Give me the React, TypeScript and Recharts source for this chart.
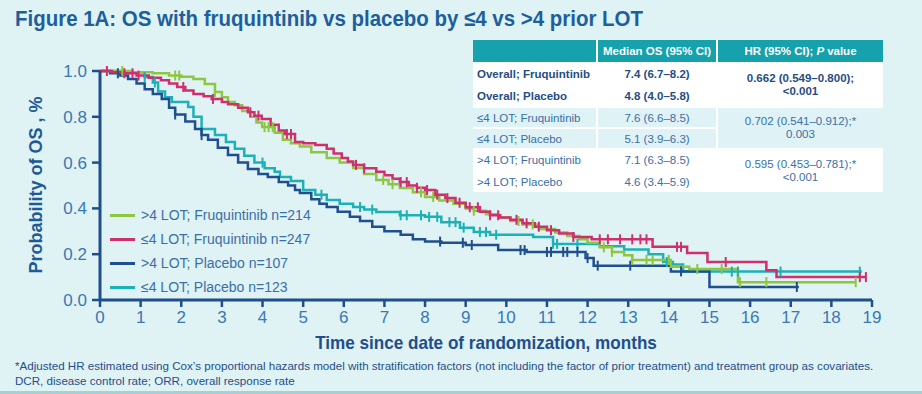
import { ComposedChart, Line, XAxis, YAxis, Legend } from 'recharts';

const NARROW = '"Liberation Sans Narrow", "Arial Narrow", "Liberation Sans", Arial, sans-serif';
const SANS = '"Liberation Sans", Arial, sans-serif';
const BG = '#dff2f4';
const NAVY = '#1f4e8c';
const TICK_BLUE = '#3a78b4';

const monthTicks = [0, 1, 2, 3, 4, 5, 6, 7, 8, 9, 10, 11, 12, 13, 14, 15, 16, 17, 18, 19];
const survTicks = [0, 0.2, 0.4, 0.6, 0.8, 1.0];

// KM steps [month, survival] and censor times
const gt4FruqSteps: [number, number][] = [
  [0, 1], [0.8, 0.995], [1.3, 0.99], [1.7, 0.98], [2.0, 0.975], [2.3, 0.965], [2.58, 0.943], [2.83, 0.908],
  [3.0, 0.885], [3.15, 0.865], [3.32, 0.85], [3.5, 0.825], [3.7, 0.8], [3.85, 0.775], [3.99, 0.755], [4.3, 0.73],
  [4.5, 0.7], [4.7, 0.685], [4.92, 0.67], [5.2, 0.645], [5.58, 0.62], [5.9, 0.6], [6.23, 0.576], [6.5, 0.55],
  [6.8, 0.524], [7.1, 0.505], [7.38, 0.489], [7.7, 0.47], [8.0, 0.45], [8.35, 0.435], [8.7, 0.42], [9.0, 0.4],
  [9.2, 0.39], [9.5, 0.375], [9.8, 0.36], [10.1, 0.345], [10.4, 0.33], [10.8, 0.31], [11.2, 0.295], [11.5, 0.28],
  [11.8, 0.265], [12.0, 0.25], [12.3, 0.23], [12.6, 0.21], [12.9, 0.195], [13.1, 0.175], [14.05, 0.145],
  [14.5, 0.135], [15.7, 0.078], [18.6, 0.078],
];
const gt4FruqCensor = [0.55, 1.85, 1.95, 2.83, 4.05, 4.15, 4.25, 6.97, 7.2, 7.9, 8.2, 9.2, 10.3, 10.65, 12.4, 12.6,
  13.1, 13.45, 13.6, 14.0, 14.7, 15.3, 15.75, 16.4, 18.6];

const le4FruqSteps: [number, number][] = [
  [0, 1], [0.3, 0.995], [0.6, 0.99], [0.9, 0.98], [1.2, 0.97], [1.5, 0.96], [1.7, 0.945], [1.9, 0.93], [2.1, 0.915],
  [2.3, 0.9], [2.55, 0.89], [2.75, 0.878], [3.0, 0.865], [3.15, 0.855], [3.4, 0.84], [3.64, 0.82], [3.8, 0.805],
  [3.98, 0.79], [4.2, 0.765], [4.4, 0.74], [4.55, 0.725], [4.8, 0.69], [5.0, 0.685], [5.3, 0.677], [5.58, 0.66],
  [5.75, 0.64], [5.95, 0.62], [6.1, 0.605], [6.23, 0.59], [6.5, 0.575], [6.8, 0.56], [7.0, 0.545], [7.2, 0.53],
  [7.38, 0.515], [7.6, 0.5], [7.8, 0.49], [8.0, 0.48], [8.25, 0.46], [8.5, 0.445], [8.75, 0.425], [9.0, 0.405],
  [9.35, 0.385], [9.6, 0.37], [9.85, 0.36], [10.1, 0.35], [10.4, 0.335], [10.7, 0.32], [11.0, 0.305], [11.3, 0.29],
  [11.65, 0.275], [12.1, 0.265], [13.6, 0.232], [14.45, 0.205], [14.95, 0.166], [16.4, 0.13], [16.65, 0.1],
  [18.85, 0.1],
];
const le4FruqCensor = [0.17, 0.6, 0.8, 0.95, 2.05, 2.78, 3.7, 3.9, 4.6, 4.7, 6.3, 6.5, 7.4, 7.55, 7.8, 8.05, 8.3,
  8.55, 8.85, 9.1, 9.3, 9.6, 9.8, 10.25, 10.5, 10.8, 11.1, 11.65, 12.3, 12.5, 12.8, 13.1, 13.3, 13.45, 14.2, 14.3,
  15.4, 18.7, 18.85];

const gt4PboSteps: [number, number][] = [
  [0, 1], [0.25, 0.99], [0.5, 0.98], [0.69, 0.965], [0.9, 0.945], [1.1, 0.92], [1.3, 0.9], [1.52, 0.878],
  [1.7, 0.84], [1.85, 0.81], [2.1, 0.78], [2.34, 0.747], [2.5, 0.72], [2.66, 0.7], [2.9, 0.665], [3.15, 0.633],
  [3.4, 0.6], [3.64, 0.572], [3.9, 0.55], [4.13, 0.537], [4.4, 0.515], [4.63, 0.5], [4.8, 0.48], [4.92, 0.467],
  [5.2, 0.44], [5.4, 0.42], [5.58, 0.406], [5.85, 0.385], [6.15, 0.363], [6.4, 0.345], [6.7, 0.32], [7.0, 0.3],
  [7.4, 0.285], [7.7, 0.265], [8.0, 0.255], [8.4, 0.25], [9.0, 0.24], [9.8, 0.218], [10.5, 0.21], [11.95, 0.183],
  [12.15, 0.15], [14.05, 0.125], [15.0, 0.057], [17.2, 0.057],
];
const gt4PboCensor = [0.44, 1.85, 2.5, 8.37, 8.93, 9.15, 10.35, 10.45, 11.0, 11.1, 11.4, 11.5, 11.75, 12.0, 12.25,
  13.05, 14.3, 17.15];

const le4PboSteps: [number, number][] = [
  [0, 1], [0.6, 0.995], [1.1, 0.974], [1.3, 0.95], [1.43, 0.91], [1.6, 0.885], [1.77, 0.865], [2.17, 0.843],
  [2.3, 0.8], [2.5, 0.747], [2.83, 0.72], [3.1, 0.69], [3.32, 0.66], [3.55, 0.63], [3.8, 0.6], [4.05, 0.575],
  [4.3, 0.56], [4.43, 0.537], [4.7, 0.52], [5.0, 0.48], [5.3, 0.46], [5.58, 0.437], [5.9, 0.42], [6.23, 0.406],
  [6.5, 0.395], [6.8, 0.384], [7.38, 0.37], [8.0, 0.363], [8.4, 0.34], [8.86, 0.316], [9.2, 0.297], [9.6, 0.285],
  [10.66, 0.275], [11.15, 0.245], [12.3, 0.235], [12.9, 0.22], [13.5, 0.2], [13.86, 0.166], [14.1, 0.155],
  [14.35, 0.124], [18.75, 0.124],
];
const le4PboCensor = [1.1, 1.35, 4.0, 5.45, 6.4, 6.7, 7.4, 7.55, 7.9, 8.1, 8.3, 8.6, 8.75, 8.95, 9.35, 9.5, 9.75,
  11.15, 11.25, 11.75, 13.95, 15.55, 15.7, 16.75, 18.7];

// step lookup: merge censor ticks into the curve at the current survival level
function buildCurve(steps: [number, number][], censor: number[]) {
  const pts = steps.map(([t, s]) => ({ t, s, c: false }));
  censor.forEach((ct) => {
    let s = steps[0][1];
    for (const [t, v] of steps) if (t <= ct) s = v;
    pts.push({ t: ct, s, c: true });
  });
  return pts.sort((a, b) => a.t - b.t || (a.c ? 1 : -1));
}

const series = [
  { name: '>4 LOT; Fruquintinib n=214', color: '#8dc641', data: buildCurve(gt4FruqSteps, gt4FruqCensor) },
  { name: '≤4 LOT; Fruquintinib n=247', color: '#cf2f6c', data: buildCurve(le4FruqSteps, le4FruqCensor) },
  { name: '>4 LOT; Placebo n=107', color: '#1f4f8f', data: buildCurve(gt4PboSteps, gt4PboCensor) },
  { name: '≤4 LOT; Placebo n=123', color: '#1bb1b7', data: buildCurve(le4PboSteps, le4PboCensor) },
];
const drawOrder = [3, 2, 0, 1];

const tableRows = [
  ['Overall; Fruquintinib', '7.4 (6.7–8.2)'],
  ['Overall; Placebo', '4.8 (4.0–5.8)'],
  ['≤4 LOT; Fruquintinib', '7.6 (6.6–8.5)'],
  ['≤4 LOT; Placebo', '5.1 (3.9–6.3)'],
  ['>4 LOT; Fruquintinib', '7.1 (6.3–8.5)'],
  ['>4 LOT; Placebo', '4.6 (3.4–5.9)'],
];
const hrRows = [
  ['0.662 (0.549–0.800);', '<0.001'],
  ['0.702 (0.541–0.912);*', '0.003'],
  ['0.595 (0.453–0.781);*', '<0.001'],
];

const censorDot = (color: string) => (p: any) => {
  const { cx, cy, payload, index } = p;
  if (!payload || !payload.c) return <g key={`n${index}`} />;
  return <line key={`c${index}`} x1={cx} x2={cx} y1={cy - 5} y2={cy + 5} stroke={color} strokeWidth={2} />;
};

function LegendBox() {
  return (
    <div style={{ fontFamily: SANS, fontSize: 14, color: '#3a6fa8' }}>
      {series.map((s) => (
        <div key={s.name} style={{ display: 'flex', alignItems: 'center', height: 24 }}>
          <span style={{ display: 'inline-block', width: 25, height: 3, background: s.color, marginRight: 6 }} />
          <span>{s.name}</span>
        </div>
      ))}
    </div>
  );
}

export default function App() {
  const rowH = [20, 20, 19, 19, 20, 20];
  const textBlue = '#3a6fa8';
  return (
    <div style={{ position: 'relative', width: 922, height: 394, background: BG, overflow: 'hidden', fontFamily: SANS, borderBottom: '3px solid #a8cfd2', boxSizing: 'border-box' }}>
      <style>{'body{margin:0}'}</style>
      <div style={{ position: 'absolute', left: 15, top: 6, fontFamily: NARROW, fontWeight: 700, fontSize: 22, color: '#1d5f9c', whiteSpace: 'nowrap', transform: 'scaleX(0.93)', transformOrigin: 'left center' }}>
        Figure 1A: OS with fruquintinib vs placebo by ≤4 vs &gt;4 prior LOT
      </div>

      <div style={{ position: 'absolute', left: 0, top: 0 }}>
        <ComposedChart width={922} height={394} margin={{ top: 71, right: 50, bottom: 64, left: 40 }}>
          <XAxis
            dataKey="t"
            type="number"
            domain={[0, 19]}
            ticks={monthTicks}
            interval={0}
            height={30}
            tickSize={7}
            tickMargin={4}
            axisLine={{ stroke: NAVY, strokeWidth: 3 }}
            tickLine={{ stroke: NAVY, strokeWidth: 2.5 }}
            tick={{ fontFamily: NARROW, fontSize: 17, fill: TICK_BLUE }}
            allowDuplicatedCategory={false}
          />
          <YAxis
            type="number"
            domain={[0, 1]}
            ticks={survTicks}
            interval={0}
            width={60}
            tickSize={8}
            tickMargin={5}
            tickFormatter={(v: number) => v.toFixed(1)}
            axisLine={{ stroke: NAVY, strokeWidth: 3 }}
            tickLine={{ stroke: NAVY, strokeWidth: 2.5 }}
            tick={{ fontFamily: NARROW, fontSize: 17, fill: TICK_BLUE }}
          />
          {drawOrder.map((i) => (
            <Line
              key={series[i].name}
              data={series[i].data}
              dataKey="s"
              type="stepAfter"
              stroke={series[i].color}
              strokeWidth={2.5}
              dot={censorDot(series[i].color)}
              activeDot={false}
              isAnimationActive={false}
              legendType="line"
            />
          ))}
          <Legend
            layout="vertical"
            align="center"
            verticalAlign="middle"
            content={() => <LegendBox />}
            wrapperStyle={{ left: 110, top: 203, width: 230 }}
          />
        </ComposedChart>
      </div>

      <div style={{ position: 'absolute', left: 36, top: 185, transform: 'translate(-50%, -50%) rotate(-90deg)', fontFamily: NARROW, fontWeight: 700, fontSize: 18, color: '#1d5a96', whiteSpace: 'nowrap' }}>
        Probability of OS , %
      </div>
      <div style={{ position: 'absolute', left: 486, top: 343, transform: 'translate(-50%, -50%) scaleX(0.9)', fontFamily: NARROW, fontWeight: 700, fontSize: 19, color: NAVY, whiteSpace: 'nowrap' }}>
        Time since date of randomization, months
      </div>

      <div style={{ position: 'absolute', left: 473, top: 40, width: 410, background: '#ffffff', display: 'grid', gridTemplateColumns: '123px 118px 165px', gridTemplateRows: `22px ${rowH.map((h) => h + 'px').join(' ')}`, gap: 2, fontSize: 11.5 }}>
        <div style={{ background: '#16a2ac' }} />
        <div style={{ background: '#16a2ac', color: '#fff', fontWeight: 700, display: 'flex', alignItems: 'center', justifyContent: 'center' }}>Median OS (95% CI)</div>
        <div style={{ background: '#16a2ac', color: '#fff', fontWeight: 700, display: 'flex', alignItems: 'center', justifyContent: 'center' }}>HR (95% CI); <i style={{ margin: '0 3px' }}>P</i> value</div>
        {tableRows.map((r, i) => {
          const bold = i < 2;
          const bg = i === 2 || i === 3 ? '#dff2f5' : '#ffffff';
          const color = bold ? '#1f4d86' : textBlue;
          const cells = [
            <div key={`a${i}`} style={{ gridRow: i + 2, gridColumn: 1, background: bg, color, fontWeight: bold ? 700 : 400, display: 'flex', alignItems: 'center', paddingLeft: 4 }}>{r[0]}</div>,
            <div key={`b${i}`} style={{ gridRow: i + 2, gridColumn: 2, background: bg, color, fontWeight: bold ? 700 : 400, display: 'flex', alignItems: 'center', justifyContent: 'center' }}>{r[1]}</div>,
          ];
          if (i % 2 === 0) {
            const hr = hrRows[i / 2];
            cells.push(
              <div key={`c${i}`} style={{ gridRow: `${i + 2} / span 2`, gridColumn: 3, background: bg, color, fontWeight: bold ? 700 : 400, display: 'flex', flexDirection: 'column', alignItems: 'center', justifyContent: 'center', lineHeight: '13px' }}>
                <span>{hr[0]}</span>
                <span>{hr[1]}</span>
              </div>,
            );
          }
          return cells;
        })}
      </div>

      <div style={{ position: 'absolute', left: 15, top: 358, fontFamily: NARROW, fontSize: 11.6, color: NAVY, lineHeight: '15px', whiteSpace: 'nowrap' }}>
        <div>*Adjusted HR estimated using Cox’s proportional hazards model with stratification factors (not including the factor of prior treatment) and treatment group as covariates.</div>
        <div>DCR, disease control rate; ORR, overall response rate</div>
      </div>
    </div>
  );
}
